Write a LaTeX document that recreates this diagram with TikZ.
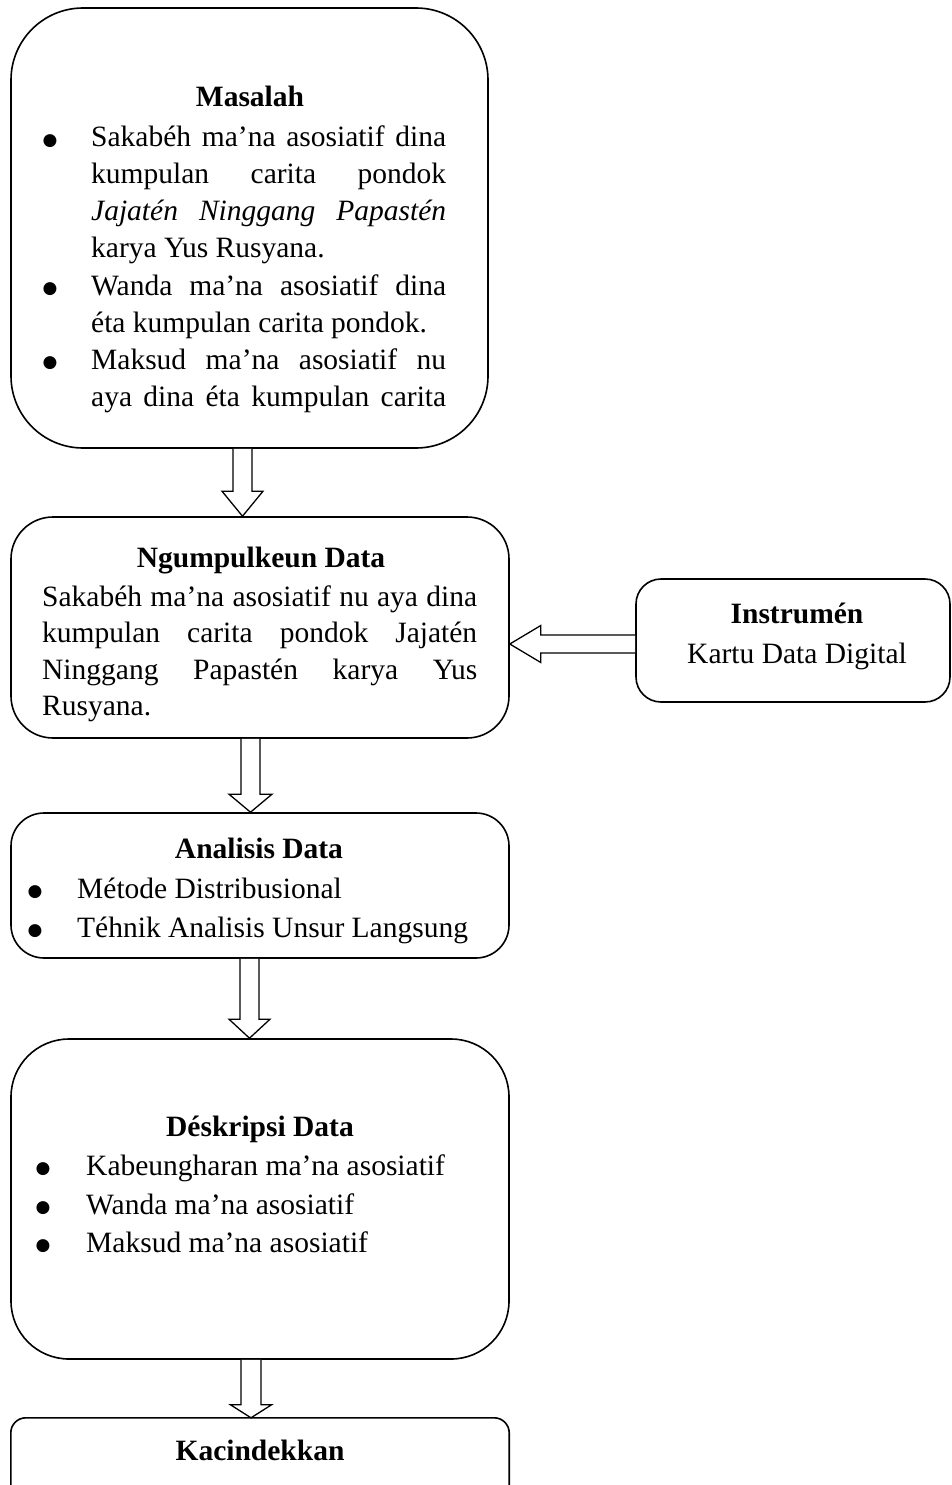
\documentclass[tikz,border=0pt]{standalone}
\usepackage{fontspec}
\setmainfont{Liberation Serif}
\newfontfamily\dejavufont{DejaVu Sans}
\usetikzlibrary{calc}
\tikzset{
 box/.style={draw, line width=1.6pt, inner sep=0pt},
 boxline/.style={draw, line width=1.6pt},
 blk/.style={draw, line width=1.3pt, fill=white, line join=miter},
 txt/.style={anchor=base west, inner sep=0pt, font=\fontsize{29.5}{37}\selectfont},
 hd/.style={anchor=base, inner sep=0pt, font=\fontsize{29.5}{37}\selectfont\bfseries},
 plain/.style={anchor=base, inner sep=0pt, font=\fontsize{29.5}{37}\selectfont},
 bul/.style={anchor=base, inner sep=0pt, font=\dejavufont\fontsize{17}{18}\selectfont},
}
\newcommand\bigbullet{\raisebox{1.5pt}{●}}
% vertical hollow block arrow: #1 start, #2 tip, #3 head length, #4 shaft half width, #5 head half width
\newcommand\vblockarrow[5]{%
  \draw[blk] ($(#1)+(-#4,0)$) -- ($(#2)+(-#4,-#3)$) -- ($(#2)+(-#5,-#3)$) -- (#2)
     -- ($(#2)+(#5,-#3)$) -- ($(#2)+(#4,-#3)$) -- ($(#1)+(#4,0)$);}
\begin{document}
\begin{tikzpicture}[x=1pt,y=-1pt]
\useasboundingbox (0,0) rectangle (952,1485);
\fill[white] (0,0) rectangle (952,1485);

% ---------- boxes ----------
\node[box, rounded corners=72pt, minimum width=477pt, minimum height=440pt] (b1) at (249.5,228) {};
\node[box, rounded corners=42pt, minimum width=498pt, minimum height=221pt] (b2) at (260,627.5) {};
\node[box, rounded corners=25pt, minimum width=314pt, minimum height=123pt] (ins) at (793,640.5) {};
\node[box, rounded corners=33pt, minimum width=498pt, minimum height=145pt] (b3) at (260,885.5) {};
\node[box, rounded corners=58pt, minimum width=498pt, minimum height=320pt] (b4) at (260,1199) {};
\node[inner sep=0pt, minimum width=498pt, minimum height=80pt] (b5) at (260,1458) {};
\draw[boxline, rounded corners=15pt] (b5.south west) -- (b5.north west) -- (b5.north east) -- (b5.south east);

% ---------- Masalah ----------
\node[hd] (t1h) at (250,107) {Masalah};
\node[bul] (t1b1) at (50,146.5) {\bigbullet};
\node[txt] (t1l1) at (91,146.5) {\makebox[355pt][s]{Sakabéh ma’na asosiatif dina}};
\node[txt] (t1l2) at (91,183.5) {\makebox[355pt][s]{kumpulan carita pondok}};
\node[txt] (t1l3) at (91,220.5) {\makebox[355pt][s]{\itshape Jajatén Ninggang Papastén}};
\node[txt] (t1l4) at (91,257.5) {karya Yus Rusyana.};
\node[bul] (t1b2) at (50,295) {\bigbullet};
\node[txt] (t1l5) at (91,295) {\makebox[355pt][s]{Wanda ma’na asosiatif dina}};
\node[txt] (t1l6) at (91,332) {éta kumpulan carita pondok.};
\node[bul] (t1b3) at (50,369) {\bigbullet};
\node[txt] (t1l7) at (91,369) {\makebox[355pt][s]{Maksud ma’na asosiatif nu}};
\node[txt] (t1l8) at (91,406) {\makebox[355pt][s]{aya dina éta kumpulan carita}};

% ---------- Ngumpulkeun Data ----------
\node[hd] (t2h) at (261,567) {Ngumpulkeun Data};
\node[txt] (t2l1) at (42,606) {\makebox[435pt][s]{Sakabéh ma’na asosiatif nu aya dina}};
\node[txt] (t2l2) at (42,642.5) {\makebox[435pt][s]{kumpulan carita pondok Jajatén}};
\node[txt] (t2l3) at (42,679) {\makebox[435pt][s]{Ninggang Papastén karya Yus}};
\node[txt] (t2l4) at (42,715) {Rusyana.};

% ---------- Instrumen ----------
\node[hd] (t3h) at (797,623) {Instrumén};
\node[plain] (t3l1) at (797,663) {Kartu Data Digital};

% ---------- Analisis Data ----------
\node[hd] (t4h) at (259,858) {Analisis Data};
\node[bul] (t4b1) at (35,898) {\bigbullet};
\node[txt] (t4l1) at (77,898) {Métode Distribusional};
\node[bul] (t4b2) at (35,937) {\bigbullet};
\node[txt] (t4l2) at (77,937) {Téhnik Analisis Unsur Langsung};

% ---------- Deskripsi Data ----------
\node[hd] (t5h) at (260,1136) {Déskripsi Data};
\node[bul] (t5b1) at (43,1175) {\bigbullet};
\node[txt] (t5l1) at (86,1175) {Kabeungharan ma’na asosiatif};
\node[bul] (t5b2) at (43,1214) {\bigbullet};
\node[txt] (t5l2) at (86,1214) {Wanda ma’na asosiatif};
\node[bul] (t5b3) at (43,1252) {\bigbullet};
\node[txt] (t5l3) at (86,1252) {Maksud ma’na asosiatif};

% ---------- Kacindekkan ----------
\node[hd] (t6h) at (260,1460) {Kacindekkan};

% ---------- arrows ----------
\coordinate (ax1) at (242.5,0);
\coordinate (ax2) at (250.5,0);
\coordinate (ax3) at (249.5,0);
\coordinate (ax4) at (251,0);
\coordinate (a1s) at (b1.south -| ax1);
\coordinate (a1t) at (b2.north -| ax1);
\coordinate (a2s) at (b2.south -| ax2);
\coordinate (a2t) at (b3.north -| ax2);
\coordinate (a3s) at (b3.south -| ax3);
\coordinate (a3t) at (b4.north -| ax3);
\coordinate (a4s) at (b4.south -| ax4);
\coordinate (a4t) at (b5.north -| ax4);
\vblockarrow{a1s}{a1t}{25}{9.5}{20.5}
\vblockarrow{a2s}{a2t}{18}{9.5}{21.5}
\vblockarrow{a3s}{a3t}{19}{9.5}{20.5}
\vblockarrow{a4s}{a4t}{13}{10}{20.5}

\coordinate (hy) at (0,644);
\coordinate (hs) at (ins.west |- hy);
\coordinate (ht) at (b2.east |- hy);
\draw[blk] ($(hs)+(0,-9)$) -- ($(ht)+(31,-9)$) -- ($(ht)+(31,-18.5)$) -- (ht)
   -- ($(ht)+(31,18.5)$) -- ($(ht)+(31,9)$) -- ($(hs)+(0,9)$);
\end{tikzpicture}
\end{document}
